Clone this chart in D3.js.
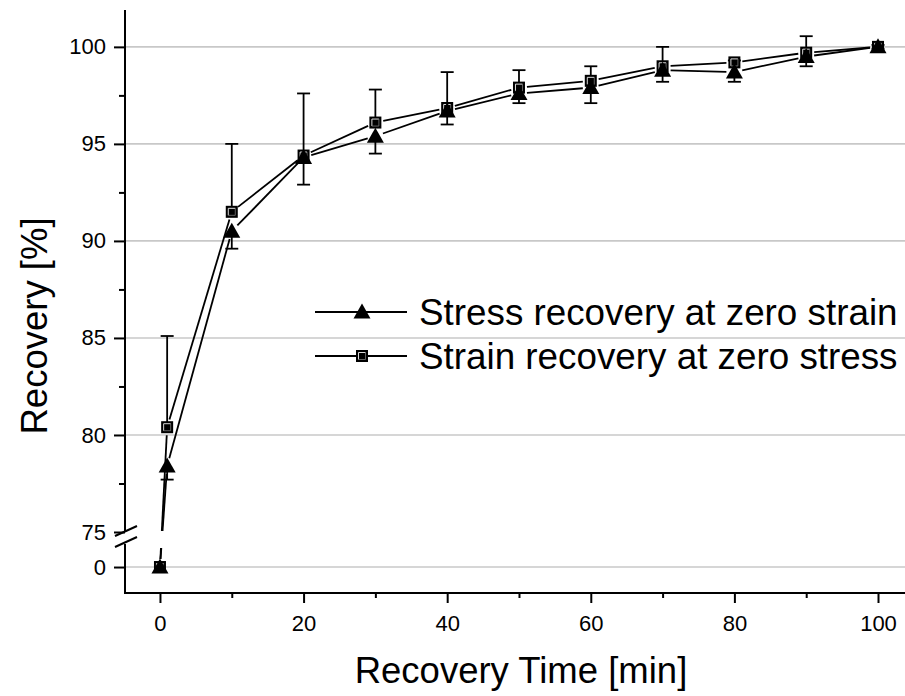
<!DOCTYPE html>
<html><head><meta charset="utf-8">
<script src="https://cdn.jsdelivr.net/npm/d3@7"></script>
<style>body{margin:0;background:#fff}svg{display:block;font-family:"Liberation Sans",Arial,sans-serif}</style>
</head><body><svg id="c" width="905" height="696"></svg>
<script>
const times = [0, 1, 10, 20, 30, 40, 50, 60, 70, 80, 90, 100];
const stressMean = [0, 78.4, 90.5, 94.3, 95.4, 96.7, 97.6, 97.9, 98.8, 98.7, 99.5, 100];
const stressSD   = [0, 0.7, 0.9, 1.4, 0.9, 0.7, 0.5, 0.8, 0.6, 0.5, 0.5, 0.1];
const strainMean = [0, 80.4, 91.5, 94.4, 96.1, 96.85, 97.9, 98.25, 99.0, 99.2, 99.7, 100];
const strainSD   = [0, 4.7, 3.5, 3.2, 1.7, 1.85, 0.9, 0.75, 1.0, 0.1, 0.85, 0.1];
const xTicks = [0, 20, 40, 60, 80, 100];
const xMinor = [10, 30, 50, 70, 90];
const yTicksUpper = [75, 80, 85, 90, 95, 100];
const yMinorUpper = [77.5, 82.5, 87.5, 92.5, 97.5];
const yTicksLower = [0];
const gridUpper = [80, 85, 90, 95, 100];
const seriesNames = ["Stress recovery at zero strain", "Strain recovery at zero stress"];
const xTitle = "Recovery Time [min]";
const yTitle = "Recovery [%]";

const svg = d3.select("#c");
const L = 125, R = 905, T = 10, B = 593;
const breakTop = 532, breakBot = 543;

const x = d3.scaleLinear().domain([-4.87, 103.76]).range([L, R]);
const yU = d3.scaleLinear().domain([75, 101.9]).range([breakTop, T]);
const yLo = d3.scaleLinear().domain([-1.34, 1.24]).range([B, breakBot]);
const yPos = v => v >= 50 ? yU(v) : yLo(v);

const defs = svg.append("defs");
const cp = defs.append("clipPath").attr("id", "plotclip");
cp.append("rect").attr("x", L).attr("y", 0).attr("width", R - L).attr("height", breakTop - 1);
cp.append("rect").attr("x", L).attr("y", breakBot + 5).attr("width", R - L).attr("height", B - breakBot - 5);

const grid = svg.append("g").attr("stroke", "#c8c8c8").attr("stroke-width", 1.6);
gridUpper.forEach(v => grid.append("line").attr("x1", L).attr("x2", R).attr("y1", yU(v)).attr("y2", yU(v)));
yTicksLower.forEach(v => grid.append("line").attr("x1", L).attr("x2", R).attr("y1", yLo(v)).attr("y2", yLo(v)));

const fs = 22;
const xAxis = d3.axisBottom(x).tickValues(xTicks).tickSize(10).tickPadding(12).tickFormat(d3.format("d"));
const gx = svg.append("g").attr("transform", `translate(0,${B})`).call(xAxis);
gx.select(".domain").remove();
gx.selectAll(".tick line").attr("stroke", "#000").attr("stroke-width", 2);
gx.selectAll("text").attr("font-size", fs).attr("fill", "#000");
const xAxisMinor = d3.axisBottom(x).tickValues(xMinor).tickSize(5).tickFormat("");
const gxm = svg.append("g").attr("transform", `translate(0,${B})`).call(xAxisMinor);
gxm.select(".domain").remove();
gxm.selectAll(".tick line").attr("stroke", "#000").attr("stroke-width", 2);
svg.append("line").attr("x1", L - 1).attr("x2", R).attr("y1", B).attr("y2", B).attr("stroke", "#000").attr("stroke-width", 2);

function yAxisDraw(scale, ticks, minor) {
  const g = svg.append("g").attr("transform", `translate(${L},0)`)
    .call(d3.axisLeft(scale).tickValues(ticks).tickSize(11).tickPadding(8).tickFormat(d3.format("d")));
  g.select(".domain").remove();
  g.selectAll(".tick line").attr("stroke", "#000").attr("stroke-width", 2);
  g.selectAll("text").attr("font-size", fs).attr("fill", "#000");
  if (minor.length) {
    const gm = svg.append("g").attr("transform", `translate(${L},0)`)
      .call(d3.axisLeft(scale).tickValues(minor).tickSize(6).tickFormat(""));
    gm.select(".domain").remove();
    gm.selectAll(".tick line").attr("stroke", "#000").attr("stroke-width", 2);
  }
}
yAxisDraw(yU, yTicksUpper, yMinorUpper);
yAxisDraw(yLo, yTicksLower, []);
svg.append("line").attr("x1", L).attr("x2", L).attr("y1", T).attr("y2", breakTop - 1).attr("stroke", "#000").attr("stroke-width", 2);
svg.append("line").attr("x1", L).attr("x2", L).attr("y1", breakBot + 1).attr("y2", B + 1).attr("stroke", "#000").attr("stroke-width", 2);
[breakTop - 1, breakBot - 1].forEach(yy => {
  svg.append("line").attr("x1", L - 10).attr("x2", L + 12).attr("y1", yy + 5).attr("y2", yy - 5)
    .attr("stroke", "#000").attr("stroke-width", 2);
});

const series = [
  { name: seriesNames[0], mean: stressMean, sd: stressSD, dir: 1, shape: "tri" },
  { name: seriesNames[1], mean: strainMean, sd: strainSD, dir: -1, shape: "sq" }
];

const plot = svg.append("g").attr("clip-path", "url(#plotclip)");
const gap = 8;
series.forEach(s => {
  const pts = times.map((t, i) => [x(t), yPos(s.mean[i])]);
  for (let i = 0; i < pts.length - 1; i++) {
    const [x1, y1] = pts[i], [x2, y2] = pts[i + 1];
    const dx = x2 - x1, dy = y2 - y1, len = Math.hypot(dx, dy);
    if (len <= 2 * gap) continue;
    const ux = dx / len, uy = dy / len;
    plot.append("line").attr("x1", x1 + ux * gap).attr("y1", y1 + uy * gap)
      .attr("x2", x2 - ux * gap).attr("y2", y2 - uy * gap)
      .attr("stroke", "#000").attr("stroke-width", 1.8);
  }
});

series.forEach(s => {
  times.forEach((t, i) => {
    if (s.sd[i] <= 0) return;
    const cx = x(t), y0 = yPos(s.mean[i]);
    const ye = s.dir > 0 ? yPos(s.mean[i] - s.sd[i]) : yPos(s.mean[i] + s.sd[i]);
    svg.append("line").attr("x1", cx).attr("x2", cx).attr("y1", y0).attr("y2", ye).attr("stroke", "#000").attr("stroke-width", 1.8);
    svg.append("line").attr("x1", cx - 6.5).attr("x2", cx + 6.5).attr("y1", ye).attr("y2", ye).attr("stroke", "#000").attr("stroke-width", 1.8);
  });
});

function drawMarker(g, shape, cx, cy) {
  if (shape === "tri") {
    g.append("path").attr("d", `M${cx},${cy - 8.5}L${cx + 8.5},${cy + 6.5}L${cx - 8.5},${cy + 6.5}Z`).attr("fill", "#000");
  } else {
    g.append("rect").attr("x", cx - 6).attr("y", cy - 6).attr("width", 12).attr("height", 12).attr("fill", "#000");
    g.append("path").attr("d", `M${cx - 3.5},${cy + 3.5}V${cy - 3.5}H${cx + 3.5}`).attr("fill", "none").attr("stroke", "#fff").attr("stroke-width", 1).attr("opacity", 0.85);
    g.append("path").attr("d", `M${cx - 3.5},${cy + 3.5}H${cx + 3.5}V${cy - 3.5}`).attr("fill", "none").attr("stroke", "#888").attr("stroke-width", 1).attr("opacity", 0.7);
  }
}
const mk = svg.append("g");
[series[1], series[0]].forEach(s => {
  times.forEach((t, i) => drawMarker(mk, s.shape, x(t), yPos(s.mean[i])));
});

const leg = svg.append("g");
series.forEach((s, i) => {
  const ly = 312 + i * 44;
  leg.append("line").attr("x1", 315).attr("x2", 407).attr("y1", ly).attr("y2", ly).attr("stroke", "#000").attr("stroke-width", 1.8);
  drawMarker(leg, s.shape, 362, ly);
  leg.append("text").attr("x", 419).attr("y", ly + 13).attr("font-size", 36.8).attr("fill", "#000").text(s.name);
});

svg.append("text").attr("x", 521).attr("y", 683).attr("text-anchor", "middle").attr("font-size", 36.5).attr("fill", "#000").text(xTitle);
svg.append("text").attr("transform", "translate(47,326) rotate(-90)").attr("text-anchor", "middle").attr("font-size", 36.5).attr("fill", "#000").text(yTitle);
</script></body></html>
